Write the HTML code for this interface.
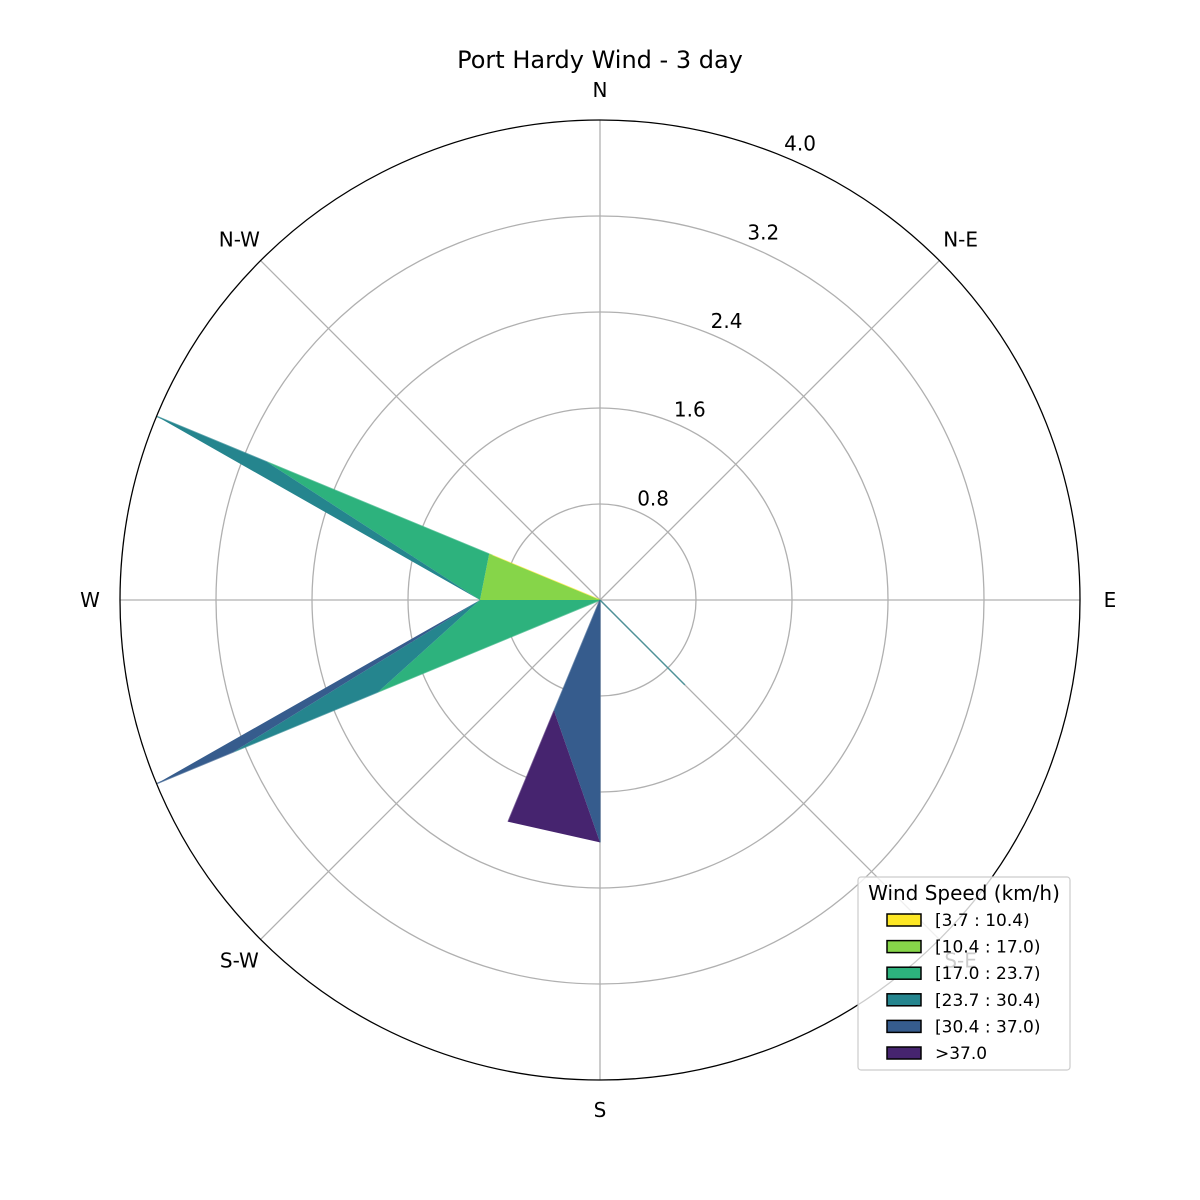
<!DOCTYPE html>
<html><head><meta charset="utf-8"><style>
html,body{margin:0;padding:0;background:#fff}
svg{display:block;font-family:"DejaVu Sans","Liberation Sans",sans-serif}
</style></head><body>
<svg id="chart" width="1200" height="1200" viewBox="0 0 1200 1200">
<rect width="1200" height="1200" fill="#fff"/>
<text x="600" y="68" text-anchor="middle" font-size="24" fill="#000">Port Hardy Wind - 3 day</text>
<g id="grid"></g>
<g id="bands"></g>
<g id="labels"></g>
<g id="legend"></g>
</svg>
<script>
const directions = ["N","NNE","NE","ENE","E","ESE","SE","SSE","S","SSW","SW","WSW","W","WNW","NW","NNW"];
const binLabels = ["[3.7 : 10.4)","[10.4 : 17.0)","[17.0 : 23.7)","[23.7 : 30.4)","[30.4 : 37.0)",">37.0"];
const binColors = ["#fde725","#86d549","#2db27d","#25858e","#365c8d","#46246f"];
const bin0 = [0,0,0,0,0,0,0,0,0,0,0,0,0,0.97,0,0];
const bin1 = [0,0,0,0,0,0,0,0,0,0,0,0,1.0,0.03,0,0];
const bin2 = [0,0,0,0,0,0,0,0,0.02,0,0,2.0,0,2.0,0,0];
const bin3 = [0,0,0,0,0,0,1.0,0,0,0,0,1.3,0,1.0,0,0];
const bin4 = [0,0,0,0,0,0,0,0,2.0,1.0,0,0.7,0,0,0,0];
const bin5 = [0,0,0,0,0,0,0,0,0,1.0,0,0,0,0,0,0];
const rTicks = [0.8,1.6,2.4,3.2,4.0];
const rMax = 4.0;
const cx=600, cy=600, R=480;
const NS="http://www.w3.org/2000/svg";
function rScale(v){return v/rMax*R;}
function pt(dirIdx,v){const a=dirIdx*2*Math.PI/directions.length;const r=rScale(v);return [cx+r*Math.sin(a), cy-r*Math.cos(a)];}
function mk(tag,attrs,parent){const e=document.createElementNS(NS,tag);for(const k in attrs)e.setAttribute(k,attrs[k]);parent.appendChild(e);return e;}
const grid=document.getElementById('grid');
rTicks.forEach((t,i)=>{
  const c=mk('circle',{cx:cx,cy:cy,r:rScale(t),fill:'none',stroke:(i===rTicks.length-1)?'none':'#b0b0b0','stroke-width':1.3},grid);
  
  
});
for(let k=0;k<8;k++){
  const a=k*Math.PI/4;
  const l=mk('line',{x1:cx,y1:cy,x2:cx+R*Math.sin(a),y2:cy-R*Math.cos(a),stroke:'#b0b0b0','stroke-width':1.3},grid);
  
  
}
const bins=[bin0,bin1,bin2,bin3,bin4,bin5];
const bandsG=document.getElementById('bands');
let prev=directions.map(()=>0);
bins.forEach((b,bi)=>{
  const cum=prev.map((p,i)=>p+b[i]);
  let d='';
  cum.forEach((v,i)=>{const p=pt(i,v);d+=(i?'L':'M')+p[0].toFixed(2)+','+p[1].toFixed(2);});
  d+='Z';
  for(let i=prev.length-1;i>=0;i--){const p=pt(i,prev[i]);d+=(i===prev.length-1?'M':'L')+p[0].toFixed(2)+','+p[1].toFixed(2);}
  d+='Z';
  const path=mk('path',{d:d,fill:binColors[bi],'fill-rule':'evenodd',stroke:'none'},bandsG);
  
  
  b.forEach((v,i)=>{
    if(v>0){
      const p0=pt(i,prev[i]), p1=pt(i,cum[i]);
      const sp=mk('line',{x1:p0[0],y1:p0[1],x2:p1[0],y2:p1[1],stroke:binColors[bi],'stroke-width':1.5,'stroke-opacity':0.7},bandsG);
      
      
    }
  });
  prev=cum;
});
const oc=mk('circle',{cx:cx,cy:cy,r:R,fill:'none',stroke:'#000','stroke-width':1.3},bandsG);


const labelsG=document.getElementById('labels');
const compass=["N","N-E","E","S-E","S","S-W","W","N-W"];
compass.forEach((c,k)=>{
  const a=k*Math.PI/4;const r=510;
  let x=cx+r*Math.sin(a), y=cy-r*Math.cos(a)+7;
  const t=mk('text',{x:x,y:y,'text-anchor':'middle','font-size':20,fill:'#000'},labelsG);
  t.textContent=c;
  
  
});
rTicks.forEach(t=>{
  const a=22.5*Math.PI/180;const r=rScale(t)+14;
  const tx=mk('text',{x:cx+r*Math.sin(a)+11,y:cy-r*Math.cos(a)+7,'text-anchor':'middle','font-size':20,fill:'#000'},labelsG);
  tx.textContent=t.toFixed(1);
  
  
});
const lg=document.getElementById('legend');
const box=mk('rect',{x:858,y:877,width:212,height:193,rx:3,fill:'#fff','fill-opacity':0.8,stroke:'#ccc','stroke-width':1.2},lg);


const lt=mk('text',{x:964,y:900,'text-anchor':'middle','font-size':20,fill:'#000'},lg);
lt.textContent='Wind Speed (km/h)';


binLabels.forEach((lab,i)=>{
  const y=920+i*26.6;
  const r=mk('rect',{x:887,y:y-6,width:34,height:12,fill:binColors[i],stroke:'#000','stroke-width':1.5},lg);
  
  
  const t=mk('text',{x:935,y:y+6,'font-size':17,fill:'#000'},lg);
  t.textContent=lab;
  
  
});
</script>
</body></html>
